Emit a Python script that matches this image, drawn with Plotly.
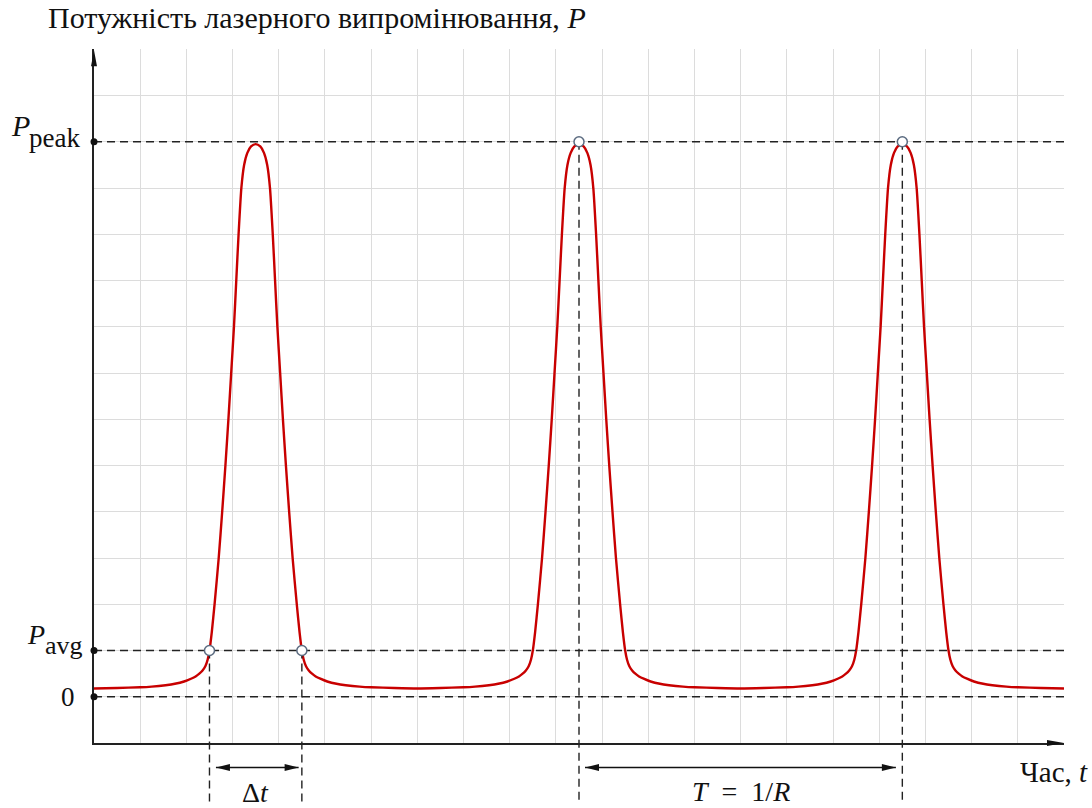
import plotly.graph_objects as go

# ---------------- data (1 unit = 1 grid cell) ----------------
pulse_centers = [3.5, 10.5, 17.5]
profile_offset = [0.0, 0.1, 0.18, 0.25, 0.31, 0.37, 0.42, 0.47, 0.53, 0.59, 0.655, 0.725,
                  0.80, 0.89, 0.95, 1.0, 1.04, 1.09, 1.15, 1.22, 1.3, 1.4, 1.55, 1.75,
                  1.95, 2.25, 2.5, 3.0, 3.5]
profile_power = [11.95, 11.9, 11.76, 11.5, 11.0, 10.0, 9.0, 8.0, 7.0, 6.0, 5.0, 4.0,
                 3.0, 2.0, 1.4, 1.0, 0.8, 0.66, 0.57, 0.5, 0.44, 0.39, 0.33, 0.28,
                 0.25, 0.22, 0.205, 0.19, 0.18]
level_zero = 0
level_avg = 1
level_peak = 12
level_labels = ["0", "avg", "peak"]
dt_edges = [2.5, 4.5]          # pulse width Δt at P_avg
period_edges = [10.5, 17.5]    # period T between peaks

# assemble the trace from the read pulse profile
t_vals, p_vals = [], []
for i, c in enumerate(pulse_centers):
    left = list(zip(profile_offset, profile_power))[::-1]
    if i > 0:
        left = left[1:]
    for o, v in left:
        t_vals.append(c - o)
        p_vals.append(v)
    for o, v in list(zip(profile_offset, profile_power))[1:]:
        t_vals.append(c + o)
        p_vals.append(v)

# ---------------- geometry ----------------
W, H = 1092, 808
XL, XR = 94.0, 1064.0      # pixel x of plot left / right
YB, YT = 743.0, 49.3       # pixel y of plot bottom / top
X_RANGE = [0, 21]
Y_RANGE = [-1, 14]
ppx = (XR - XL) / (X_RANGE[1] - X_RANGE[0])
ppy = (YB - YT) / (Y_RANGE[1] - Y_RANGE[0])
x2_range = [X_RANGE[0] - XL / ppx, X_RANGE[1] + (W - XR) / ppx]
y2_range = [Y_RANGE[0] - (H - YB) / ppy, Y_RANGE[1] + YT / ppy]


def ylev(px):
    return Y_RANGE[0] - (px - YB) / ppy


def px_(x):
    return x / W


def py_(y):
    return 1 - y / H


SERIF = "Liberation Serif, Times New Roman, serif"
RED = "#c80000"
DASH_C = "#222222"
DASH = "8px,5px"

fig = go.Figure()

fig.add_trace(go.Scatter(
    x=t_vals, y=p_vals, mode="lines",
    line=dict(color=RED, width=2.4, shape="spline", smoothing=0.6),
    xaxis="x", yaxis="y", hoverinfo="skip", showlegend=False))

# horizontal dashed reference lines
for lv in [level_zero, level_avg, level_peak]:
    fig.add_trace(go.Scatter(
        x=[X_RANGE[0], X_RANGE[1]], y=[lv, lv], mode="lines",
        line=dict(color=DASH_C, width=1.4, dash=DASH),
        xaxis="x2", yaxis="y2", hoverinfo="skip", showlegend=False))

# vertical dashed lines
y_bottom = ylev(803)
for xv in dt_edges:
    fig.add_trace(go.Scatter(
        x=[xv, xv], y=[level_avg, y_bottom], mode="lines",
        line=dict(color=DASH_C, width=1.4, dash=DASH),
        xaxis="x2", yaxis="y2", hoverinfo="skip", showlegend=False))
for xv in period_edges:
    fig.add_trace(go.Scatter(
        x=[xv, xv], y=[level_peak, y_bottom], mode="lines",
        line=dict(color=DASH_C, width=1.4, dash=DASH),
        xaxis="x2", yaxis="y2", hoverinfo="skip", showlegend=False))

# dots on the power axis
fig.add_trace(go.Scatter(
    x=[0, 0, 0], y=[level_zero, level_avg, level_peak], mode="markers",
    marker=dict(color="#111111", size=7),
    xaxis="x2", yaxis="y2", hoverinfo="skip", showlegend=False))

# open circle markers
fig.add_trace(go.Scatter(
    x=dt_edges + period_edges, y=[level_avg, level_avg, level_peak, level_peak],
    mode="markers",
    marker=dict(color="white", size=10, line=dict(color="#5b6b80", width=1.5)),
    xaxis="x2", yaxis="y2", hoverinfo="skip", showlegend=False))

# ---------------- shapes: arrows ----------------
shapes = []


def head(xa, ya, path):
    shapes.append(dict(type="path", xref="x2", yref="y2", xsizemode="pixel",
                       ysizemode="pixel", xanchor=xa, yanchor=ya, path=path,
                       fillcolor="#111111", line=dict(width=0), layer="above"))


# axis arrowheads
head(0, Y_RANGE[1] - 0.02, "M0,0 L-3,-16 L3,-16 Z")
head(X_RANGE[1], Y_RANGE[0], "M0,0 L-17,3 L-17,-3 Z")

arrow_y = ylev(767.5)
for a, b in [(dt_edges[0] + 0.14, dt_edges[1] - 0.07),
             (period_edges[0] + 0.13, period_edges[1] - 0.14)]:
    shapes.append(dict(type="line", xref="x2", yref="y2", x0=a, x1=b,
                       y0=arrow_y, y1=arrow_y, line=dict(color="#111111", width=1.3)))
    head(a, arrow_y, "M0,0 L14,3.5 L14,-3.5 Z")
    head(b, arrow_y, "M0,0 L-14,3.5 L-14,-3.5 Z")

# ---------------- annotations ----------------
ann = []


def text(x, y, s, size, xanchor="center", italic=False, xref="paper", yref="paper"):
    ann.append(dict(x=x, y=y, xref=xref, yref=yref, text=s, showarrow=False,
                    xanchor=xanchor, yanchor="middle",
                    font=dict(family=SERIF, size=size, color="#111111",
                              style="italic" if italic else "normal")))


text(px_(46), py_(17), "Потужність лазерного випромінювання, <i>P</i>", 30, "left")
text(px_(9), py_(125), "P", 30, "left", italic=True)
text(px_(27), py_(138), level_labels[2], 27, "left")
text(px_(25), py_(634), "P", 28, "left", italic=True)
text(px_(43), py_(645), level_labels[1], 26, "left")
text(px_(77), py_(697), level_labels[0], 27, "right")
text(sum(dt_edges) / 2, ylev(792), "Δ<i>t</i>", 28, xref="x2", yref="y2")
text(sum(period_edges) / 2, ylev(791),
     "<i>T</i>\u00a0\u00a0=\u00a0\u00a01/<i>R</i>", 28, xref="x2", yref="y2")
text(px_(1090), py_(772), "Час, <i>t</i>", 29, "right")

fig.update_layout(
    width=W, height=H,
    margin=dict(l=0, r=0, t=0, b=0),
    paper_bgcolor="white", plot_bgcolor="rgba(0,0,0,0)",
    showlegend=False,
    shapes=shapes, annotations=ann,
    xaxis=dict(domain=[XL / W, XR / W], range=X_RANGE, anchor="y",
               showgrid=True, gridcolor="#dcdcdc", gridwidth=1, dtick=1, tick0=0,
               showticklabels=False, ticks="", zeroline=False,
               showline=True, linecolor="#222222", linewidth=1.5, fixedrange=True),
    yaxis=dict(domain=[1 - YB / H, 1 - YT / H], range=Y_RANGE, anchor="x",
               showgrid=True, gridcolor="#dcdcdc", gridwidth=1, dtick=1, tick0=0,
               showticklabels=False, ticks="", zeroline=False,
               showline=True, linecolor="#222222", linewidth=1.5, fixedrange=True),
    xaxis2=dict(domain=[0, 1], range=x2_range, anchor="y2", visible=False,
                showgrid=False, zeroline=False, fixedrange=True),
    yaxis2=dict(domain=[0, 1], range=y2_range, anchor="x2", visible=False,
                showgrid=False, zeroline=False, fixedrange=True),
)

fig.write_html("out.html",
               config={"displayModeBar": False},
               post_script="document.body.style.margin='0px';"
                           "document.body.style.overflow='hidden';")
